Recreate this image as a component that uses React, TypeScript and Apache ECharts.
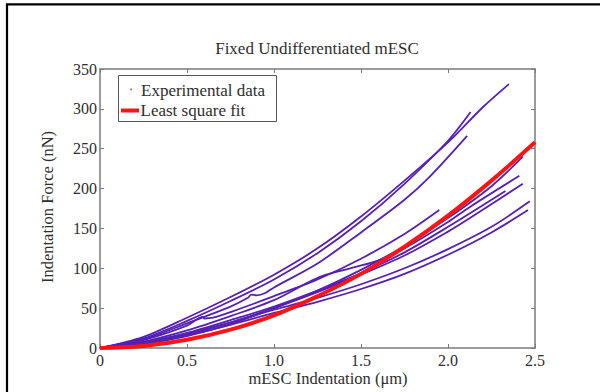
import React, { useEffect, useRef } from "react";
import * as echarts from "echarts";

const titleText = "Fixed Undifferentiated mESC";
const xAxisName = "mESC Indentation (μm)";
const yAxisName = "Indentation Force (nN)";
const legendLabels = ["Experimental data", "Least square fit"];
const xTicks = [0, 0.5, 1.0, 1.5, 2.0, 2.5];
const yTicks = [0, 50, 100, 150, 200, 250, 300, 350];

// Experimental curves: [indentation µm, force nN]
const curveA = [[0, 0], [0.25, 14], [0.5, 38], [0.75, 64], [1.0, 92], [1.25, 125], [1.5, 165], [1.75, 210], [2.0, 258], [2.2, 302], [2.35, 331]];
const curveB = [[0, 0], [0.25, 12], [0.5, 34], [0.75, 59], [1.0, 86], [1.25, 119], [1.5, 159], [1.75, 206], [2.0, 260], [2.13, 296]];
const curveC = [[0, 0], [0.25, 11], [0.5, 31], [0.75, 52], [0.85, 63], [0.87, 67], [0.9, 66], [0.95, 69], [1.0, 76], [1.25, 106], [1.5, 145], [1.75, 186], [1.9, 216], [2.11, 266]];
const curveD = [[0, 0], [0.25, 10], [0.5, 28], [0.59, 39], [0.6, 37], [0.65, 38], [0.75, 45], [1.0, 65], [1.25, 86], [1.5, 112], [1.75, 143], [1.95, 173]];
const curveE = [[0, 0], [0.25, 5], [0.5, 15], [0.75, 30], [1.0, 50], [1.25, 72], [1.5, 98], [1.75, 128], [2.0, 163], [2.25, 203], [2.43, 240]];
const curveF = [[0, 0], [0.25, 8], [0.5, 22], [0.75, 40], [1.0, 60], [1.22, 85], [1.3, 92], [1.475, 102], [1.6, 110], [1.75, 125], [2.0, 158], [2.126, 177], [2.41, 216]];
const curveG = [[0, 0], [0.25, 6], [0.5, 17], [0.75, 32], [1.0, 50], [1.25, 70], [1.5, 92], [1.75, 116], [2.0, 146], [2.126, 163], [2.43, 206]];
const curveH = [[0, 0], [0.25, 7], [0.5, 19], [0.75, 35], [1.0, 52], [1.25, 72], [1.5, 94], [1.75, 120], [2.0, 152], [2.33, 197]];
const curveI = [[0, 0], [0.25, 7], [0.5, 18], [0.75, 32], [1.0, 48], [1.25, 63], [1.5, 80], [1.75, 100], [2.0, 124], [2.25, 152], [2.47, 184]];
const curveJ = [[0, 0], [0.25, 6], [0.5, 16], [0.75, 29], [1.0, 44], [1.25, 58], [1.5, 74], [1.75, 93], [2.0, 117], [2.25, 145], [2.46, 173]];
const experimentalCurves = [curveA, curveB, curveC, curveD, curveE, curveF, curveG, curveH, curveI, curveJ];

// Least square fit
const fitCurve = [[0, 0], [0.25, 2.6], [0.5, 10.3], [0.75, 23], [1.0, 41], [1.25, 65], [1.5, 93], [1.75, 127], [2.0, 166], [2.25, 210], [2.5, 258]];

const FONT = "Liberation Serif";
const PURPLE = "#5520b4";
const RED = "#ff1414";
const AXIS = "#7a7a7a";
const TEXT = "#2e2e2e";

export default function App() {
  const ref = useRef<HTMLDivElement>(null);
  useEffect(() => {
    if (!ref.current) return;
    const chart = echarts.init(ref.current, undefined, { renderer: "svg" });
    const gridL = 100, gridT = 69, gridR = 65, gridB = 44;
    const commonAxisLine = { show: true, onZero: false, lineStyle: { color: AXIS, width: 1.5 } };
    const commonTick = { show: true, inside: true, length: 4, lineStyle: { color: AXIS, width: 1 } };
    const series: any[] = experimentalCurves.map((c, i) => ({
      type: "line",
      name: legendLabels[0],
      id: "exp" + i,
      data: c,
      showSymbol: false,
      symbol: "none",
      smooth: 0.3,
      lineStyle: { color: PURPLE, width: 1.8 },
      z: 2,
    }));
    series.push({
      type: "line",
      name: legendLabels[1],
      data: fitCurve,
      showSymbol: false,
      symbol: "none",
      smooth: 0.4,
      lineStyle: { color: RED, width: 4 },
      z: 3,
    });
    const txt = (text: string, size: number, align: string) => ({
      text, fontFamily: FONT, fontSize: size, fill: TEXT, align, verticalAlign: "middle",
    });
    chart.setOption({
      animation: false,
      backgroundColor: "#ffffff",
      textStyle: { fontFamily: FONT },
      grid: { left: gridL, top: gridT, right: gridR, bottom: gridB, show: false },
      xAxis: [
        {
          type: "value", position: "bottom", min: 0, max: 2.5, interval: 0.5,
          axisLine: commonAxisLine, axisTick: commonTick, splitLine: { show: false },
          axisLabel: {
            fontFamily: FONT, fontSize: 16, color: TEXT, margin: 4,
            formatter: (v: number) => (xTicks.includes(v) ? (v === 0 ? "0" : v.toFixed(1)) : ""),
          },
        },
        {
          type: "value", position: "top", min: 0, max: 2.5, interval: 0.5,
          axisLine: commonAxisLine, axisTick: commonTick, splitLine: { show: false },
          axisLabel: { show: false },
        },
      ],
      yAxis: [
        {
          type: "value", position: "left", min: 0, max: 350, interval: 50,
          axisLine: commonAxisLine, axisTick: commonTick, splitLine: { show: false },
          axisLabel: {
            fontFamily: FONT, fontSize: 16, color: TEXT, margin: 3,
            formatter: (v: number) => (yTicks.includes(v) ? String(v) : ""),
          },
        },
        {
          type: "value", position: "right", min: 0, max: 350, interval: 50,
          axisLine: commonAxisLine, axisTick: commonTick, splitLine: { show: false },
          axisLabel: { show: false },
        },
      ],
      series,
      graphic: [
        {
          type: "rect", silent: true, z: 100,
          shape: { x: 7, y: 4.3, width: 700, height: 500 },
          style: { fill: "none", stroke: "#000", lineWidth: 2.2 },
        },
        { type: "text", z: 100, x: 317, y: 48, style: txt(titleText, 17, "center") },
        { type: "text", z: 100, x: 328, y: 378, style: txt(xAxisName, 16.5, "center") },
        { type: "text", z: 100, x: 47, y: 207, rotation: Math.PI / 2, style: txt(yAxisName, 16.5, "center") },
        {
          type: "group", z: 100,
          children: [
            {
              type: "rect",
              shape: { x: 118.5, y: 75.5, width: 158, height: 46 },
              style: { fill: "#fff", stroke: "#555", lineWidth: 1 },
            },
            { type: "circle", shape: { cx: 131, cy: 89.5, r: 1 }, style: { fill: "#888" } },
            { type: "text", x: 141, y: 90, style: txt(legendLabels[0], 17, "left") },
            {
              type: "line",
              shape: { x1: 121, y1: 110.5, x2: 139, y2: 110.5 },
              style: { stroke: RED, lineWidth: 4 },
            },
            { type: "text", x: 140.5, y: 110.5, style: txt(legendLabels[1], 17, "left") },
          ],
        },
      ],
    });
    return () => chart.dispose();
  }, []);
  return <div ref={ref} style={{ position: "fixed", left: 0, top: 0, width: 600, height: 392, background: "#fff" }} />;
}
